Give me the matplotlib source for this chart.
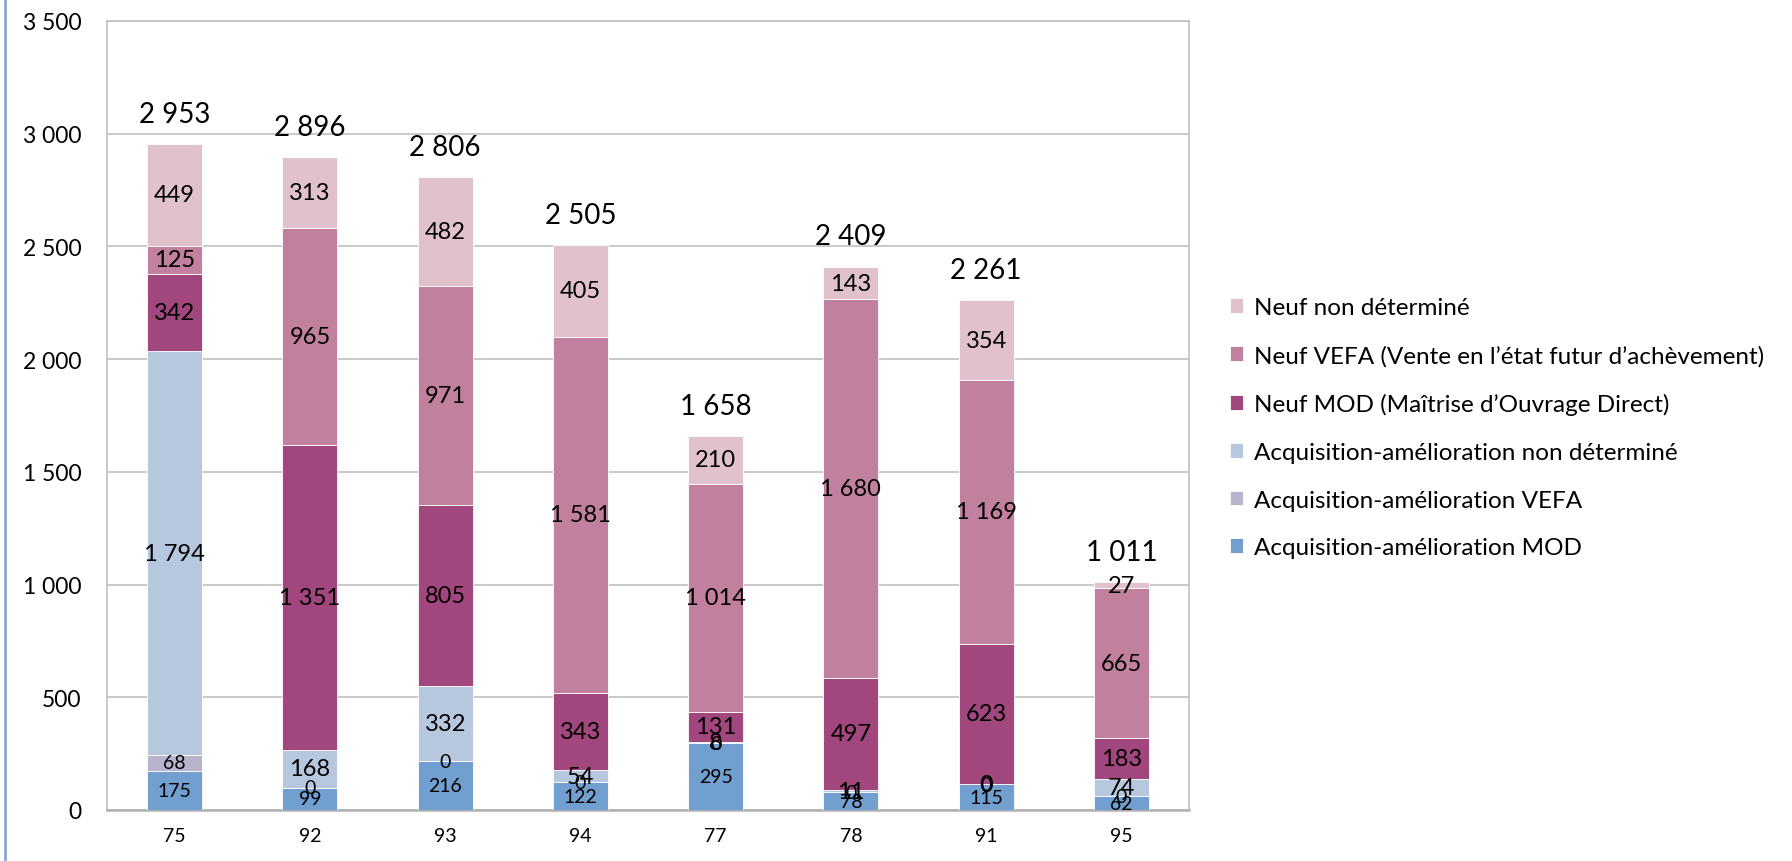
import matplotlib
matplotlib.use("Agg")
import matplotlib.pyplot as plt
from matplotlib.lines import Line2D
import numpy as np

plt.rcParams["font.family"] = ["Lato", "DejaVu Sans"]

departements = ["75", "92", "93", "94", "77", "78", "91", "95"]

# stacked bottom -> top
acq_mod = [175, 99, 216, 122, 295, 78, 115, 62]
acq_vefa = [68, 0, 0, 0, 0, 0, 0, 0]
acq_nd = [1794, 168, 332, 54, 8, 11, 0, 74]
neuf_mod = [342, 1351, 805, 343, 131, 497, 623, 183]
neuf_vefa = [125, 965, 971, 1581, 1014, 1680, 1169, 665]
neuf_nd = [449, 313, 482, 405, 210, 143, 354, 27]

series = [
    ("Acquisition-amélioration MOD", acq_mod, "#709fd0", 14),
    ("Acquisition-amélioration VEFA", acq_vefa, "#b9b3cc", 14),
    ("Acquisition-amélioration non déterminé", acq_nd, "#b7c8de", 17),
    ("Neuf MOD (Maîtrise d’Ouvrage Direct)", neuf_mod, "#a2467e", 17),
    ("Neuf VEFA (Vente en l’état futur d’achèvement)", neuf_vefa, "#c2809f", 17),
    ("Neuf non déterminé", neuf_nd, "#e0c1cc", 17),
]


def fmt(v):
    return f"{v:,}".replace(",", " ")


W, H = 1792, 862
fig = plt.figure(figsize=(W / 100, H / 100), dpi=100)
ax = fig.add_axes([107 / W, 1 - 811 / H, (1189 - 107) / W, (811 - 22) / H])

x = np.arange(len(departements))
bottom = np.zeros(len(departements))
handles = []
for name, vals, color, fs in series:
    vals = np.array(vals)
    bars = ax.bar(x, vals, 0.405, bottom=bottom, color=color, label=name,
                  edgecolor="white", linewidth=0.6, zorder=3)
    ax.bar_label(bars, labels=[fmt(v) for v in vals], label_type="center",
                 fontsize=fs, color="black", zorder=4)
    handles.append(bars)
    bottom += vals

for xi, tot in zip(x, bottom):
    ax.annotate(fmt(int(tot)), (xi, tot), xytext=(0, 22), textcoords="offset points",
                ha="center", va="center", fontsize=20)

ax.set_xlim(-0.5, 7.5)
ax.set_ylim(0, 3500)
ax.set_yticks(np.arange(0, 3501, 500))
ax.set_yticklabels([fmt(v) for v in range(0, 3501, 500)], fontsize=16.5)
ax.set_xticks(x)
ax.set_xticklabels(departements, fontsize=14)
ax.tick_params(axis="y", length=0, pad=18.5)
ax.tick_params(axis="x", length=0, pad=12)
ax.yaxis.grid(True, color="#c0c0c0", linewidth=1.2, zorder=0)
ax.set_axisbelow(True)
for side in ["top", "left", "right"]:
    ax.spines[side].set_color("#c0c0c0")
    ax.spines[side].set_linewidth(1.2)
ax.spines["bottom"].set_color("#b0b0b0")
ax.spines["bottom"].set_linewidth(1.8)

ax.legend(handles[::-1], [s[0] for s in series][::-1], loc="upper left",
          bbox_to_anchor=(1230 / W, 1 - 298 / H), bbox_transform=fig.transFigure,
          frameon=False, fontsize=17.5, handlelength=0.55, handleheight=0.55,
          handletextpad=0.45, labelspacing=1.1, borderpad=0, borderaxespad=0)

# thin blue frame line on the left edge of the image
fig.add_artist(Line2D([5 / W, 5 / W], [0, 1], transform=fig.transFigure,
                      color="#8aa6d0", linewidth=2))

fig.savefig("out.png", dpi=100)
